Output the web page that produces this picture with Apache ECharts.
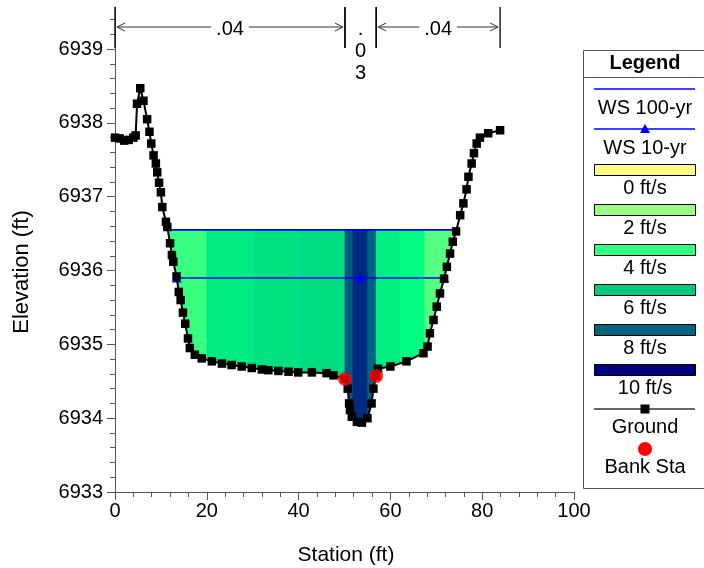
<!DOCTYPE html>
<html>
<head>
<meta charset="utf-8">
<script src="https://cdn.jsdelivr.net/npm/echarts@6/dist/echarts.min.js"></script>
<style>
  html, body { margin: 0; padding: 0; background: #fff; }
  #chart { width: 704px; height: 568px; }
</style>
</head>
<body>
<div id="chart"></div>
<script>
// Cross-section ground points: station (ft) and elevation (ft)
const groundStation = [
  0, 1.0, 2.0, 3.0, 4.0, 4.5, 4.8, 5.5, 6.2, 7.0, 7.5, 7.9, 8.4, 8.9, 9.2, 9.6, 10.0,
  10.3, 11.1, 11.4, 12.0, 12.4, 12.7, 13.4, 13.9, 14.3, 14.8, 15.3, 15.9, 16.3, 17.4,
  18.9, 21.1, 23.3, 25.4, 27.6, 29.8, 32.0, 33.4, 35.6, 37.8, 39.9, 42.9, 46.1, 47.6,
  50.1, 50.7, 51.0, 51.2, 51.6, 52.7, 53.8, 55.0, 55.9, 56.3, 56.9, 57.3, 60.0, 63.5,
  67.2, 68.1, 68.6, 69.4, 70.1, 70.8, 71.7, 72.3, 73.0, 73.6, 74.3, 75.2, 75.9, 76.6,
  77.0, 77.7, 78.2, 78.8, 79.5, 81.3, 83.9
];
const groundElevation = [
  6937.80, 6937.79, 6937.76, 6937.77, 6937.80, 6937.83, 6938.26, 6938.47, 6938.30, 6938.05,
  6937.88, 6937.72, 6937.56, 6937.45, 6937.33, 6937.19, 6937.06, 6936.86, 6936.66, 6936.59,
  6936.37, 6936.21, 6936.12, 6935.92, 6935.71, 6935.60, 6935.43, 6935.28, 6935.08, 6934.95,
  6934.86, 6934.81, 6934.77, 6934.74, 6934.72, 6934.70, 6934.68, 6934.66, 6934.65, 6934.64,
  6934.63, 6934.62, 6934.62, 6934.61, 6934.58, 6934.53, 6934.40, 6934.20, 6934.11, 6934.02,
  6933.95, 6933.94, 6934.00, 6934.20, 6934.40, 6934.57, 6934.67, 6934.70, 6934.77, 6934.88,
  6934.97, 6935.15, 6935.33, 6935.51, 6935.69, 6935.89, 6936.05, 6936.23, 6936.39, 6936.53,
  6936.75, 6936.91, 6937.10, 6937.27, 6937.45, 6937.59, 6937.72, 6937.80, 6937.86, 6937.90
];

// Main channel bank stations
const bankStation = [50.1, 56.9];
const bankElevation = [6934.53, 6934.57];

// Water surface elevations (ft)
const ws100 = 6936.55;
const ws10 = 6935.90;

// Horizontal velocity distribution for the 100-yr profile (ft/s per flow slice)
const sliceStart = [0, 20.0, 30.1, 39.9, 50.1, 51.85, 55.1, 56.9, 62.1, 67.5, 73.3];
const sliceEnd = [20.0, 30.1, 39.9, 50.1, 51.85, 55.1, 56.9, 62.1, 67.5, 73.3, 84];
const sliceVelocity = [3.9, 5.4, 5.57, 5.67, 8.24, 9.2, 8.04, 5.3, 5.05, 3.33, 0.3];

// Manning's n reaches across the section
const nStart = [0, 50.1, 56.9];
const nEnd = [50.1, 56.9, 83.9];
const nValue = ['.04', '.03', '.04'];

// Velocity legend entries (ft/s)
const legendSpeeds = [0, 2, 4, 6, 8, 10];

// Axis ticks
const xMin = 0, xMax = 100, xStep = 20;
const yMin = 6933, yMax = 6939.57;
const yLabels = [6933, 6934, 6935, 6936, 6937, 6938, 6939];

const FONT = '"Liberation Sans", Arial, Helvetica, sans-serif';

function groundAt(x) {
  if (x <= groundStation[0]) return groundElevation[0];
  for (let i = 1; i < groundStation.length; i++) {
    if (x <= groundStation[i]) {
      const t = (x - groundStation[i - 1]) / (groundStation[i] - groundStation[i - 1]);
      return groundElevation[i - 1] + t * (groundElevation[i] - groundElevation[i - 1]);
    }
  }
  return groundElevation[groundElevation.length - 1];
}

// Left and right edges of water for a given stage, walking out from the thalweg
function waterEdges(ws) {
  let low = 0;
  groundElevation.forEach((e, i) => { if (e < groundElevation[low]) low = i; });
  let left = groundStation[0], right = groundStation[groundStation.length - 1];
  for (let i = low; i > 0; i--) {
    if (groundElevation[i - 1] >= ws) {
      const t = (ws - groundElevation[i]) / (groundElevation[i - 1] - groundElevation[i]);
      left = groundStation[i] + t * (groundStation[i - 1] - groundStation[i]);
      break;
    }
  }
  for (let i = low; i < groundStation.length - 1; i++) {
    if (groundElevation[i + 1] >= ws) {
      const t = (ws - groundElevation[i]) / (groundElevation[i + 1] - groundElevation[i]);
      right = groundStation[i] + t * (groundStation[i + 1] - groundStation[i]);
      break;
    }
  }
  return [left, right];
}

// Velocity colour ramp: red fades out over 0-5 ft/s, green over 5-10 ft/s, blue fixed
// (0 -> #FFFF80, 2 -> #99FF80, 4 -> #33FF80, 6 -> #00CC80, 8 -> #006680, 10 -> #000080)
function velocityColor(v) {
  const clamp = c => Math.max(0, Math.min(255, Math.round(c)));
  const r = clamp(255 - 51 * v);
  const g = clamp(255 - 51 * (v - 5));
  return 'rgb(' + r + ',' + g + ',128)';
}

const measureCtx = document.createElement('canvas').getContext('2d');
function textWidth(str, size) {
  measureCtx.font = size + 'px ' + FONT;
  return measureCtx.measureText(str).width;
}

const edges100 = waterEdges(ws100);
const edges10 = waterEdges(ws10);
const channelMid = (bankStation[0] + bankStation[1]) / 2;

const chart = echarts.init(document.getElementById('chart'));

// Legend panel on the right, plus the axis titles
function legendGraphics() {
  const cx = 645, x0 = 594, x1 = 695;
  const txt = (s, y, bold) => ({
    type: 'text', x: cx, y: y,
    style: { text: s, font: (bold ? 'bold ' : '') + '20px ' + FONT, fill: '#000', align: 'center', verticalAlign: 'middle' }
  });
  const els = [
    { type: 'rect', shape: { x: 583.5, y: 50.5, width: 130, height: 438 }, style: { fill: '#fff', stroke: '#555', lineWidth: 1 } },
    { type: 'line', shape: { x1: 583.5, y1: 77.5, x2: 713, y2: 77.5 }, style: { stroke: '#555', lineWidth: 1 } },
    txt('Legend', 63, true),
    { type: 'line', shape: { x1: x0, y1: 89, x2: x1, y2: 89 }, style: { stroke: '#0000FF', lineWidth: 1.5 } },
    txt('WS 100-yr', 108),
    { type: 'line', shape: { x1: x0, y1: 129, x2: x1, y2: 129 }, style: { stroke: '#0000FF', lineWidth: 1.5 } },
    { type: 'polygon', shape: { points: [[cx, 124], [cx + 5, 133], [cx - 5, 133]] }, style: { fill: '#0000FF' } },
    txt('WS 10-yr', 148)
  ];
  legendSpeeds.forEach((v, k) => {
    els.push({ type: 'rect', shape: { x: x0 + 0.5, y: 164.5 + 40 * k, width: x1 - x0, height: 11 },
      style: { fill: velocityColor(v), stroke: '#000', lineWidth: 1 } });
    els.push(txt(v + ' ft/s', 188 + 40 * k));
  });
  els.push({ type: 'line', shape: { x1: x0, y1: 409, x2: x1, y2: 409 }, style: { stroke: '#333', lineWidth: 1.5 } });
  els.push({ type: 'rect', shape: { x: cx - 4.5, y: 404.5, width: 9, height: 9 }, style: { fill: '#000' } });
  els.push(txt('Ground', 427));
  els.push({ type: 'circle', shape: { cx: cx, cy: 449, r: 7 }, style: { fill: '#FF0000' } });
  els.push(txt('Bank Sta', 467));
  // axis titles
  els.push({ type: 'text', x: 22, y: 272, rotation: Math.PI / 2,
    style: { text: 'Elevation (ft)', font: '22px ' + FONT, fill: '#000', align: 'center', verticalAlign: 'middle' } });
  els.push({ type: 'text', x: 346, y: 555,
    style: { text: 'Station (ft)', font: '21px ' + FONT, fill: '#000', align: 'center', verticalAlign: 'middle' } });
  return els;
}

const axisColor = '#555';

chart.setOption({
  animation: false,
  grid: { left: 115, right: 130, top: 7, bottom: 76, containLabel: false },
  xAxis: {
    type: 'value', min: xMin, max: xMax, interval: xStep,
    axisLine: { show: true, onZero: false, lineStyle: { color: axisColor, width: 1 } },
    axisTick: { show: true, length: 8, lineStyle: { color: axisColor } },
    minorTick: { show: true, splitNumber: 5, length: 5, lineStyle: { color: axisColor } },
    axisLabel: { margin: 9, fontSize: 20, fontFamily: FONT, color: '#000', formatter: v => String(v) },
    splitLine: { show: false }
  },
  yAxis: {
    type: 'value', min: yMin, max: yMax, interval: 1,
    axisLine: { show: true, onZero: false, lineStyle: { color: axisColor, width: 1 } },
    axisTick: { show: true, length: 8, customValues: yLabels, lineStyle: { color: axisColor } },
    minorTick: { show: true, splitNumber: 5, length: 5, lineStyle: { color: axisColor } },
    axisLabel: { customValues: yLabels, margin: 12, fontSize: 20, fontFamily: FONT, color: '#000', formatter: v => String(v) },
    splitLine: { show: false }
  },
  graphic: legendGraphics(),
  series: [
    {
      // velocity-coloured flow area of the 100-yr profile
      type: 'custom', z: 1, silent: true,
      data: sliceStart.map((s, i) => [s, sliceEnd[i]]),
      encode: { x: [0, 1] },
      renderItem(params, api) {
        const i = params.dataIndex;
        const x0 = Math.max(sliceStart[i], edges100[0]);
        const x1 = Math.min(sliceEnd[i], edges100[1]);
        if (x1 <= x0) return null;
        const pts = [[x0, ws100], [x1, ws100], [x1, Math.min(groundAt(x1), ws100)]];
        for (let k = groundStation.length - 1; k >= 0; k--) {
          const s = groundStation[k];
          if (s > x0 && s < x1) pts.push([s, Math.min(groundElevation[k], ws100)]);
        }
        pts.push([x0, Math.min(groundAt(x0), ws100)]);
        const col = velocityColor(sliceVelocity[i]);
        return { type: 'polygon', shape: { points: pts.map(p => api.coord(p)) },
          style: { fill: col, stroke: col, lineWidth: 0.6 } };
      }
    },
    {
      name: 'WS 100-yr', type: 'line', z: 2, silent: true,
      data: [[edges100[0], ws100], [edges100[1], ws100]],
      showSymbol: false, symbol: 'none',
      lineStyle: { color: '#0000FF', width: 1.8 }
    },
    {
      name: 'WS 10-yr', type: 'line', z: 2, silent: true,
      data: [[edges10[0], ws10], [channelMid, ws10], [edges10[1], ws10]],
      symbol: 'triangle', symbolSize: [10, 9],
      itemStyle: { color: '#0000FF' },
      lineStyle: { color: '#0000FF', width: 1.5 }
    },
    {
      name: 'Ground', type: 'line', z: 3, silent: true,
      data: groundStation.map((s, i) => [s, groundElevation[i]]),
      symbol: 'rect', symbolSize: 8.5, showAllSymbol: true,
      itemStyle: { color: '#000' },
      lineStyle: { color: '#000', width: 2 }
    },
    {
      name: 'Bank Sta', type: 'scatter', z: 4, silent: true,
      data: bankStation.map((s, i) => [s, bankElevation[i]]),
      symbol: 'circle', symbolSize: 14,
      itemStyle: { color: '#FF0000' }
    },
    {
      // Manning's n reach brackets along the top
      type: 'custom', z: 5, silent: true,
      data: nStart.map((s, i) => [s, nEnd[i]]),
      encode: { x: [0, 1] },
      renderItem(params, api) {
        const i = params.dataIndex;
        const top = api.coord([nStart[i], yMax])[1];
        const base = api.coord([nStart[i], 6939])[1] - 1;
        const px0 = api.coord([nStart[i], yMax])[0];
        const px1 = api.coord([nEnd[i], yMax])[0];
        const ay = top + 20;
        const children = [
          { type: 'line', shape: { x1: px0, y1: top, x2: px0, y2: base }, style: { stroke: '#000', lineWidth: 1.3 } },
          { type: 'line', shape: { x1: px1, y1: top, x2: px1, y2: base }, style: { stroke: '#000', lineWidth: 1.3 } }
        ];
        const label = nValue[i];
        const w = textWidth(label, 20);
        const mid = (px0 + px1) / 2;
        if (px1 - px0 > w + 40) {
          const gap = w / 2 + 5;
          const head = (tip, dir) => ({ type: 'polyline',
            shape: { points: [[tip + dir * 8, ay - 4], [tip, ay], [tip + dir * 8, ay + 4]] },
            style: { stroke: '#333', lineWidth: 1, fill: null } });
          children.push(
            { type: 'line', shape: { x1: px0 + 2, y1: ay, x2: mid - gap, y2: ay }, style: { stroke: '#333', lineWidth: 1 } },
            { type: 'line', shape: { x1: mid + gap, y1: ay, x2: px1 - 2, y2: ay }, style: { stroke: '#333', lineWidth: 1 } },
            head(px0 + 2, 1), head(px1 - 2, -1),
            { type: 'text', x: mid, y: ay + 2, style: { text: label, font: '20px ' + FONT, fill: '#000', align: 'center', verticalAlign: 'middle' } }
          );
        } else {
          // too narrow: stack the characters vertically
          label.split('').forEach((ch, k) => {
            children.push({ type: 'text', x: mid, y: ay + 2 + 22 * k,
              style: { text: ch, font: '20px ' + FONT, fill: '#000', align: 'center', verticalAlign: 'middle' } });
          });
        }
        return { type: 'group', children };
      }
    }
  ]
});
</script>
</body>
</html>
